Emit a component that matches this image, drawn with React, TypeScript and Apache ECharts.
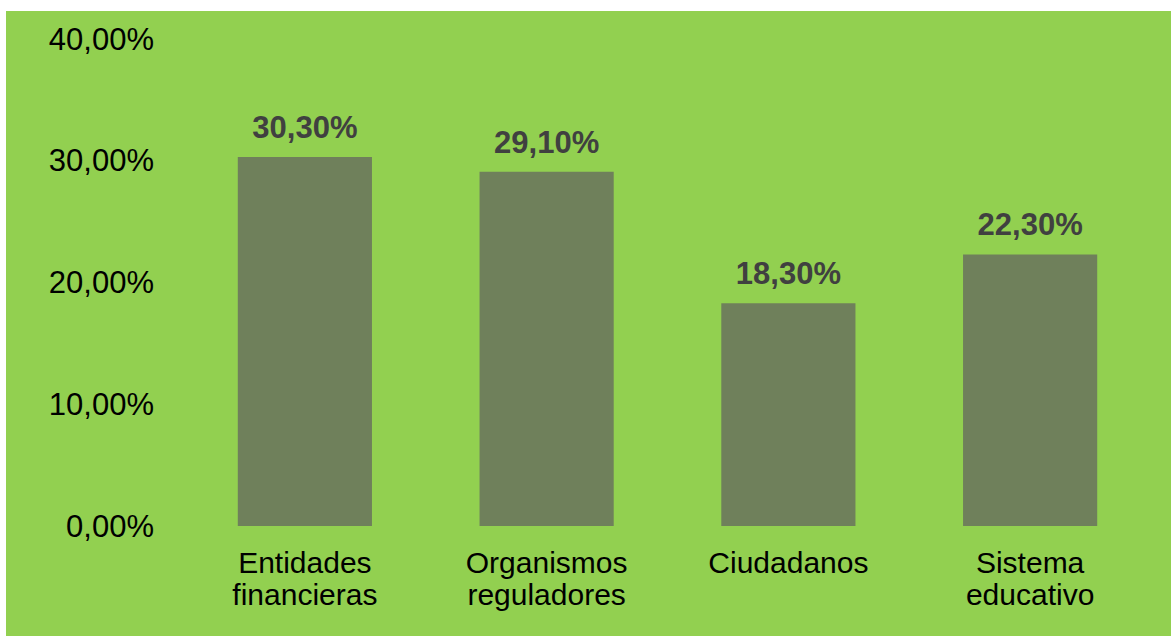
import React, { useEffect, useRef } from "react";
import * as echarts from "echarts";

const categories = ["Entidades\nfinancieras", "Organismos\nreguladores", "Ciudadanos", "Sistema\neducativo"];
const values = [30.3, 29.1, 18.3, 22.3];
const yTicks = { min: 0, max: 40, interval: 10 };

const fmt = (v: number) => v.toFixed(2).replace(".", ",") + "%";

export default function App() {
  const ref = useRef<HTMLDivElement>(null);
  useEffect(() => {
    if (!ref.current) return;
    const chart = echarts.init(ref.current, null, { renderer: "svg" });
    chart.setOption({
      animation: false,
      backgroundColor: "#92D050",
      textStyle: { fontFamily: "Liberation Sans, Arial, sans-serif" },
      grid: { left: 178, right: 20, top: 28, bottom: 110, containLabel: false },
      xAxis: {
        type: "category",
        data: categories,
        axisLine: { show: false },
        axisTick: { show: false },
        axisLabel: {
          color: "#000000",
          fontSize: 30,
          lineHeight: 32,
          margin: 20,
          interval: 0,
        },
      },
      yAxis: {
        type: "value",
        min: yTicks.min,
        max: yTicks.max,
        interval: yTicks.interval,
        splitLine: { show: false },
        axisLine: { show: false },
        axisTick: { show: false },
        axisLabel: {
          color: "#000000",
          fontSize: 31,
          margin: 30,
          formatter: (v: number) => fmt(v),
        },
      },
      series: [
        {
          type: "bar",
          data: values,
          barWidth: "55.5%",
          itemStyle: { color: "#6F805B" },
          label: {
            show: true,
            position: "top",
            distance: 14,
            color: "#404040",
            fontSize: 31,
            fontWeight: "bold",
            formatter: (p: any) => fmt(p.value),
          },
        },
      ],
    });
    return () => chart.dispose();
  }, []);
  return (
    <div
      ref={ref}
      style={{ position: "absolute", left: 6, top: 11, width: 1165, height: 625 }}
    />
  );
}
